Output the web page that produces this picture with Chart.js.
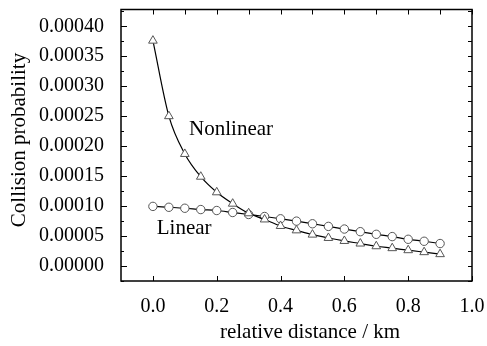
<!DOCTYPE html>
<html>
<head>
<meta charset="utf-8">
<script src="https://cdn.jsdelivr.net/npm/chart.js@4"></script>
<style>
html,body{margin:0;padding:0;background:#fff;}
#wrap{width:487px;height:346px;}
</style>
</head>
<body>
<div id="wrap"><canvas id="c" width="487" height="346"></canvas></div>
<script>
const distances = [0.00,0.05,0.10,0.15,0.20,0.25,0.30,0.35,0.40,0.45,0.50,0.55,0.60,0.65,0.70,0.75,0.80,0.85,0.90];
const nonlinearValues = [0.000376,0.000250,0.000187,0.000149,0.000123,0.000104,0.000088,0.0000777,0.0000668,0.0000595,0.0000524,0.0000468,0.0000418,0.0000375,0.0000330,0.0000298,0.0000264,0.0000231,0.0000198];
const linearValues = [0.0000995,0.0000980,0.0000964,0.0000942,0.0000926,0.0000893,0.0000860,0.0000826,0.0000788,0.0000749,0.0000705,0.0000661,0.0000617,0.0000573,0.0000529,0.0000491,0.0000446,0.0000413,0.0000375];
const xTickValues = [0.0,0.2,0.4,0.6,0.8,1.0];
const xTopTickValues = [0.0,0.1,0.2,0.3,0.4,0.5,0.6,0.7,0.8,0.9,1.0];
const yTickValues = [0.00000,0.00005,0.00010,0.00015,0.00020,0.00025,0.00030,0.00035,0.00040];
const yMinorTickValues = [-0.000025,0.000025,0.000075,0.000125,0.000175,0.000225,0.000275,0.000325,0.000375,0.000425];
const seriesLabels = ["Nonlinear","Linear"];
const xTitle = "relative distance / km";
const yTitle = "Collision probability";

const FONT = "'Liberation Serif','Times New Roman',serif";

function toXY(xs, ys){ return xs.map((x,i)=>({x:x,y:ys[i]})); }

const framePlugin = {
  id:'frame',
  afterDraw(chart){
    const ctx = chart.ctx, a = chart.chartArea;
    const xs = chart.scales.x, ys = chart.scales.y;
    ctx.save();
    ctx.strokeStyle = '#000';
    ctx.lineWidth = 1;
    ctx.beginPath();
    xTickValues.forEach(v=>{ const p=Math.round(xs.getPixelForValue(v))+0.5; ctx.moveTo(p,a.bottom); ctx.lineTo(p,a.bottom-5); });
    xTopTickValues.forEach(v=>{ const p=Math.round(xs.getPixelForValue(v))+0.5; ctx.moveTo(p,a.top); ctx.lineTo(p,a.top+5); });
    yTickValues.forEach(v=>{ const p=Math.round(ys.getPixelForValue(v))+0.5; ctx.moveTo(a.left,p); ctx.lineTo(a.left+6,p); ctx.moveTo(a.right,p); ctx.lineTo(a.right-4,p); });
    yMinorTickValues.forEach(v=>{ const p=Math.round(ys.getPixelForValue(v))+0.5; ctx.moveTo(a.left,p); ctx.lineTo(a.left+3,p); ctx.moveTo(a.right,p); ctx.lineTo(a.right-4,p); });
    ctx.stroke();
    ctx.lineWidth = 1.5;
    ctx.strokeRect(a.left, a.top, a.right-a.left, a.bottom-a.top);
    ctx.fillStyle = '#000';
    ctx.font = "21px " + FONT;
    ctx.textAlign = 'center'; ctx.textBaseline = 'middle';
    ctx.fillText(seriesLabels[0], xs.getPixelForValue(0.245), ys.getPixelForValue(0.000228));
    ctx.fillText(seriesLabels[1], xs.getPixelForValue(0.098), ys.getPixelForValue(0.0000628));
    ctx.fillText(xTitle, 310, 332);
    ctx.save();
    ctx.translate(19, 140);
    ctx.rotate(-Math.PI/2);
    ctx.fillText(yTitle, 0, 0);
    ctx.restore();
    ctx.restore();
  }
};

new Chart(document.getElementById('c'), {
  type:'line',
  data:{
    datasets:[
      {
        label:seriesLabels[0],
        data:toXY(distances, nonlinearValues),
        borderColor:'#000', borderWidth:1.2,
        pointStyle:'triangle', pointRadius:5,
        pointBackgroundColor:'#fff', pointBorderColor:'#555', pointBorderWidth:1,
        cubicInterpolationMode:'monotone'
      },
      {
        label:seriesLabels[1],
        data:toXY(distances, linearValues),
        borderColor:'#000', borderWidth:1.2,
        pointStyle:'circle', pointRadius:4.2,
        pointBackgroundColor:'#fff', pointBorderColor:'#555', pointBorderWidth:1,
        cubicInterpolationMode:'monotone'
      }
    ]
  },
  options:{
    responsive:false,
    animation:false,
    events:[],
    layout:{padding:{left:0,right:15,top:8,bottom:0}},
    plugins:{legend:{display:false},tooltip:{enabled:false}},
    scales:{
      x:{
        type:'linear', min:-0.1, max:1.0,
        grid:{display:false}, border:{display:false},
        afterBuildTicks(s){ s.ticks = xTickValues.map(v=>({value:v})); },
        afterFit(s){ s.height = 65; s.paddingLeft = 0; s.paddingRight = 0; },
        ticks:{color:'#000', font:{family:FONT,size:20}, padding:6, maxRotation:0,
          callback:(v)=>Number(v).toFixed(1)}
      },
      y:{
        type:'linear', min:-0.000025, max:0.000428,
        grid:{display:false}, border:{display:false},
        afterBuildTicks(s){ s.ticks = yTickValues.map(v=>({value:v})); },
        afterFit(s){ s.width = 121; },
        ticks:{color:'#000', font:{family:FONT,size:20,lineHeight:0.05}, padding:9,
          callback:(v)=>Number(v).toFixed(5)}
      }
    }
  },
  plugins:[framePlugin]
});
</script>
</body>
</html>
